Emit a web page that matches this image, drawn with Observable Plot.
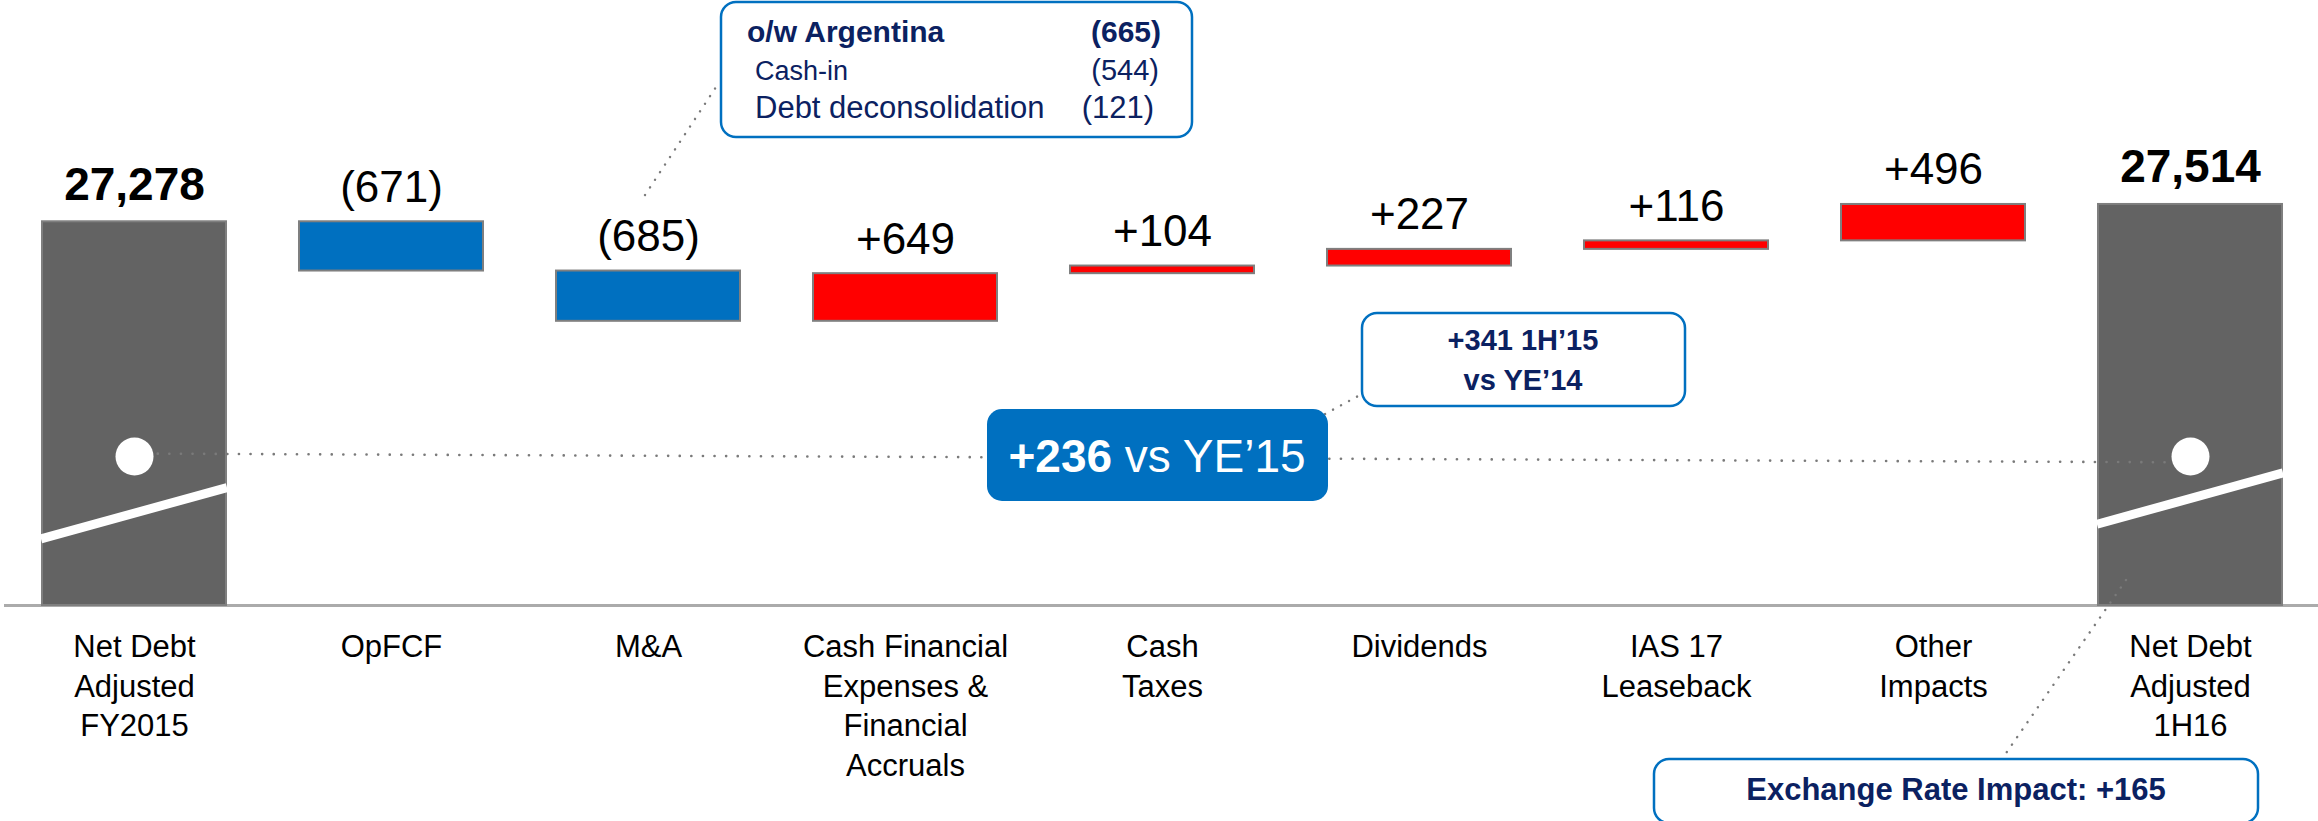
<!DOCTYPE html>
<html><head><meta charset="utf-8">
<script src="https://cdn.jsdelivr.net/npm/d3@7"></script>
<script src="https://cdn.jsdelivr.net/npm/@observablehq/plot@0.6"></script>
<style>
html,body{margin:0;padding:0;background:#fff;}
#chart{width:2318px;height:821px;overflow:hidden;position:relative;}
</style></head><body><div id="chart"></div>
<script>
// ---- data ----
const categories = ["Net Debt\nAdjusted\nFY2015", "OpFCF", "M&A", "Cash Financial\nExpenses &\nFinancial\nAccruals", "Cash\nTaxes", "Dividends", "IAS 17\nLeaseback", "Other\nImpacts", "Net Debt\nAdjusted\n1H16"];
const kinds = ["total", "decrease", "decrease", "increase", "increase", "increase", "increase", "increase", "total"];
const values = [27278, -671, -685, 649, 104, 227, 116, 496, 27514];
const valueLabels = ["27,278", "(671)", "(685)", "+649", "+104", "+227", "+116", "+496", "27,514"];
const argentinaRows = ["o/w Argentina", "Cash-in", "Debt deconsolidation"];
const argentinaValues = ["(665)", "(544)", "(121)"];
const vsYE15 = ["+236", " vs YE\u201915"];
const vs1H15 = ["+341 1H\u201915", "vs YE\u201914"];
const fxImpact = "Exchange Rate Impact: +165";

// ---- scale settings (broken axis) ----
const axisBase = 22050;
const axisTop = 30000;
const refLevel = [24120, 24000];         // dotted comparison line (left, right)
const breakLevels = [[22950, 23650], [23150, 23850]]; // white axis-break stripes

// ---- waterfall table ----
let run = 0;
const rows = categories.map((c, i) => {
  let y1, y2;
  if (kinds[i] === "total") { y1 = axisBase; y2 = values[i]; run = values[i]; }
  else { y1 = run; y2 = run + values[i]; run = y2; }
  return {cat: c, kind: kinds[i], y1, y2, top: Math.max(y1, y2), label: valueLabels[i]};
});
const totals = rows.filter(r => r.kind === "total");
const changes = rows.filter(r => r.kind !== "total");

const FONT = "'Liberation Sans', Arial, sans-serif";
const NAVY = "#0b2161";
const BLUE = "#0070C0";

const plot = Plot.plot({
  width: 2318, height: 821,
  marginTop: 21.5, marginBottom: 216, marginLeft: 14, marginRight: 9,
  style: {fontFamily: FONT, background: "white", color: "#000"},
  x: {domain: categories, paddingInner: 0.285, paddingOuter: 0.1, label: null},
  y: {domain: [axisBase, axisTop], axis: null},
  color: {domain: ["total", "decrease", "increase"], range: ["#636363", BLUE, "#FF0000"]},
  marks: [
    Plot.ruleY([axisBase], {stroke: "#ababab", strokeWidth: 3, insetLeft: -10, insetRight: -9}),
    Plot.barY(rows, {x: "cat", y1: "y1", y2: "y2", fill: "kind", stroke: "#7f7f7f", strokeWidth: 2}),
    Plot.link([{a: categories[0], b: categories[categories.length - 1]}], {
      x1: "a", x2: "b", y1: () => refLevel[0], y2: () => refLevel[1],
      stroke: "#7a7a7a", strokeWidth: 2.6, strokeDasharray: "0.1,11.5", strokeLinecap: "round"
    }),
    Plot.dot(totals, {x: "cat", y: () => refLevel[0] - 40, r: 19, fill: "white", stroke: "none"}),
    Plot.text(totals, {x: "cat", y: "top", text: "label", dy: -22, lineAnchor: "bottom", fontSize: 46, fontWeight: "bold", fill: "#000"}),
    Plot.text(changes, {x: "cat", y: "top", text: "label", dy: -20, lineAnchor: "bottom", fontSize: 44, fill: "#000"}),
    Plot.axisX({tickSize: 0, tickPadding: 24, fontSize: 31, lineHeight: 1.27, fill: "#000", label: null})
  ]
});
document.getElementById("chart").appendChild(plot);

// ---- decorations & annotations placed with the plot's scales ----
const svg = d3.select(plot);
const xs = plot.scale("x"), ys = plot.scale("y");
const bw = xs.bandwidth;
const X = c => xs.apply(c);
const Y = v => ys.apply(v);
const cx = i => X(categories[i]) + bw / 2;

// axis-break stripes on the total bars
totals.forEach((t, k) => {
  svg.append("line")
    .attr("x1", X(t.cat) - 1).attr("y1", Y(breakLevels[k][0]))
    .attr("x2", X(t.cat) + bw + 1).attr("y2", Y(breakLevels[k][1]))
    .attr("stroke", "white").attr("stroke-width", 9);
});

const dotted = (x1, y1, x2, y2) => svg.append("line")
  .attr("x1", x1).attr("y1", y1).attr("x2", x2).attr("y2", y2)
  .attr("stroke", "#7a7a7a").attr("stroke-width", 2.4)
  .attr("stroke-dasharray", "0.1,9").attr("stroke-linecap", "round");

const box = (x, y, w, h, fill, stroke) => svg.append("rect")
  .attr("x", x).attr("y", y).attr("width", w).attr("height", h)
  .attr("rx", 15).attr("ry", 15)
  .attr("fill", fill).attr("stroke", stroke || "none").attr("stroke-width", 2.5);

const txt = (x, y, s, size, weight, anchor, fill) => svg.append("text")
  .attr("x", x).attr("y", y).attr("font-size", size).attr("font-weight", weight)
  .attr("text-anchor", anchor).attr("fill", fill).attr("font-family", FONT).text(s);

// Argentina callout (M&A)
const mA = cx(2);
dotted(mA - 3, 195, mA + 70, 84);
box(mA + 73, 2, 471, 135, "white", BLUE);
txt(mA + 99, 42, argentinaRows[0], 30, "bold", "start", NAVY);
txt(mA + 513, 42, argentinaValues[0], 30, "bold", "end", NAVY);
txt(mA + 107, 80, argentinaRows[1], 27, "normal", "start", NAVY);
txt(mA + 511, 80, argentinaValues[1], 29, "normal", "end", NAVY);
txt(mA + 107, 118, argentinaRows[2], 31, "normal", "start", NAVY);
txt(mA + 506, 118, argentinaValues[2], 31, "normal", "end", NAVY);

// +236 vs YE'15 (centered on the Cash Taxes column, on the dotted line)
const bc = cx(4) - 5;
dotted(bc + 168, 414, bc + 203, 395);
box(bc - 170, 409, 341, 92, BLUE);
const t236 = svg.append("text").attr("x", bc).attr("y", 472).attr("text-anchor", "middle")
  .attr("font-size", 46).attr("fill", "white").attr("font-family", FONT);
t236.append("tspan").attr("font-weight", "bold").text(vsYE15[0]);
t236.append("tspan").text(vsYE15[1]);

// +341 1H'15 vs YE'14
const pc = cx(5) + 104;
box(pc - 161, 313, 323, 93, "white", BLUE);
txt(pc, 350, vs1H15[0], 29, "bold", "middle", NAVY);
txt(pc, 390, vs1H15[1], 29, "bold", "middle", NAVY);

// Exchange rate impact
const fc = cx(8);
dotted(fc - 64, 580, fc - 188, 759);
box(fc - 536, 759, 604, 64, "white", BLUE);
txt(fc - 234, 800, fxImpact, 31, "bold", "middle", NAVY);
</script>
</body></html>
